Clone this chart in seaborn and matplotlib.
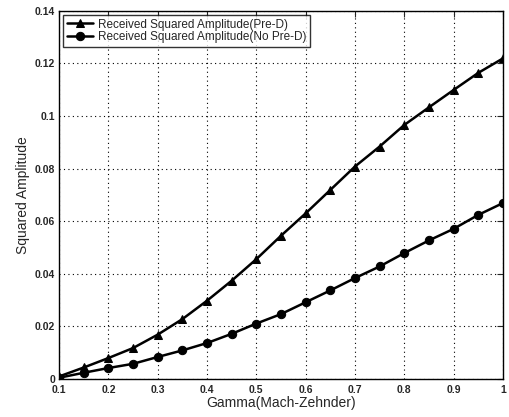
import numpy as np
import pandas as pd
import matplotlib
matplotlib.use("Agg")
import matplotlib.pyplot as plt
import seaborn as sns

gamma = [0.1, 0.15, 0.2, 0.25, 0.3, 0.35, 0.4, 0.45, 0.5, 0.55,
         0.6, 0.65, 0.7, 0.75, 0.8, 0.85, 0.9, 0.95, 1.0]
pre_d = [0.0010, 0.0044, 0.0080, 0.0118, 0.0169, 0.0228, 0.0298, 0.0374, 0.0456, 0.0545,
         0.0630, 0.0719, 0.0808, 0.0884, 0.0966, 0.1033, 0.1099, 0.1164, 0.1219]
no_pre_d = [0.0005, 0.0024, 0.0042, 0.0058, 0.0084, 0.0109, 0.0137, 0.0172, 0.0211, 0.0247,
            0.0292, 0.0337, 0.0384, 0.0428, 0.0479, 0.0527, 0.0571, 0.0624, 0.0669]
labels = ["Received Squared Amplitude(Pre-D)", "Received Squared Amplitude(No Pre-D)"]
xticks = [0.1, 0.2, 0.3, 0.4, 0.5, 0.6, 0.7, 0.8, 0.9, 1.0]
xticklabels = ["0.1", "0.2", "0.3", "0.4", "0.5", "0.6", "0.7", "0.8", "0.9", "1"]
yticks = [0, 0.02, 0.04, 0.06, 0.08, 0.1, 0.12, 0.14]
yticklabels = ["0", "0.02", "0.04", "0.06", "0.08", "0.1", "0.12", "0.14"]

df = pd.DataFrame({
    "gamma": gamma * 2,
    "amp": pre_d + no_pre_d,
    "series": [labels[0]] * len(gamma) + [labels[1]] * len(gamma),
})

sns.set_style("white")
plt.rcParams["font.family"] = ["Liberation Sans", "DejaVu Sans"]

fig, ax = plt.subplots(figsize=(5.1, 4.17), dpi=100)
fig.subplots_adjust(left=0.116, right=0.986, top=0.974, bottom=0.091)

sns.lineplot(data=df, x="gamma", y="amp", hue="series", style="series",
             markers={labels[0]: "^", labels[1]: "o"}, dashes=False,
             palette={labels[0]: "black", labels[1]: "black"},
             linewidth=1.8, markersize=6, markeredgecolor="black", ax=ax)

ax.set_xlim(0.1, 1.0)
ax.set_ylim(0, 0.14)
ax.set_xticks(xticks)
ax.set_xticklabels(xticklabels, fontsize=7.5, fontweight="bold")
ax.set_yticks(yticks)
ax.set_yticklabels(yticklabels, fontsize=7.5, fontweight="bold")
ax.tick_params(direction="in", top=True, right=True, length=4, width=0.8)
ax.tick_params(axis="x", pad=4)
ax.tick_params(axis="y", pad=3)
ax.grid(True, color="black", linestyle=(0, (1, 3)), linewidth=0.8)
for s in ax.spines.values():
    s.set_color("black")
    s.set_linewidth(1.0)

ax.set_xlabel("Gamma(Mach-Zehnder)", fontsize=10, labelpad=1)
ax.set_ylabel("Squared Amplitude", fontsize=10, labelpad=3)

leg = ax.legend(loc="upper left", fontsize=8.5, frameon=True, fancybox=False,
                borderpad=0.3, labelspacing=0.05, handlelength=2.2,
                handletextpad=0.4, borderaxespad=0.35)
leg.get_frame().set_edgecolor("black")
leg.get_frame().set_linewidth(1.0)
leg.set_title(None)

fig.savefig("out.png", dpi=100)
